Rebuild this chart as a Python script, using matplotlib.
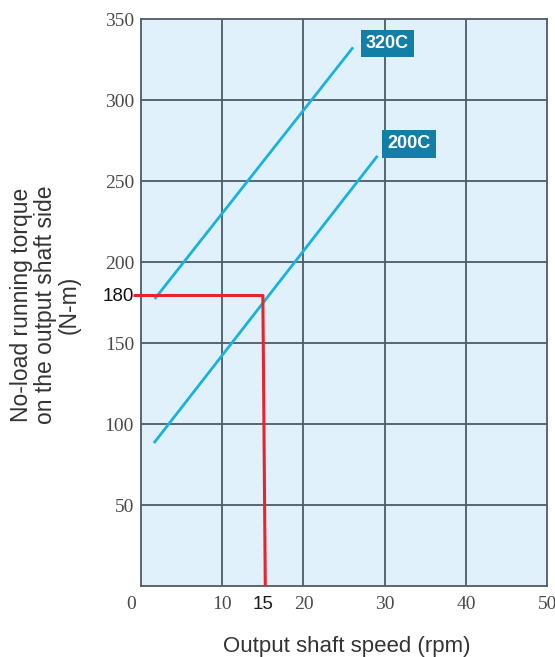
import matplotlib
matplotlib.use("Agg")
import matplotlib.pyplot as plt
from matplotlib.transforms import ScaledTranslation

# Torque vs. speed characteristics for two models
models = ["320C", "200C"]
speed_320c = [1.8, 26.0]
torque_320c = [178, 332]
speed_200c = [1.7, 29.0]
torque_200c = [89, 265]

# Worked example: 180 N-m at 15 rpm
example_torque = 180
example_speed = 15

x_ticks = [0, 10, 15, 20, 30, 40, 50]
y_ticks = [50, 100, 150, 180, 200, 250, 300, 350]
grid_x = [10, 20, 30, 40]
grid_y = [50, 100, 150, 200, 250, 300]

line_color = "#19b2dc"
grid_color = "#4d5b66"
fill_color = "#e1f1fb"
badge_color = "#137ea6"
red = "#e8232a"

fig = plt.figure(figsize=(5.55, 6.57), dpi=100)
ax = fig.add_axes([0.254, 0.108, 0.732, 0.8626])
ax.set_facecolor(fill_color)
ax.set_xlim(0, 50)
ax.set_ylim(0, 350)

for gx in grid_x:
    ax.axvline(gx, color=grid_color, lw=1.3, zorder=1)
for gy in grid_y:
    ax.axhline(gy, color=grid_color, lw=1.3, zorder=1)
for s in ax.spines.values():
    s.set_color(grid_color)
    s.set_linewidth(1.3)

ax.plot(speed_320c, torque_320c, color=line_color, lw=2.0, zorder=3)
ax.plot(speed_200c, torque_200c, color=line_color, lw=2.0, zorder=3)

# Example lookup path
ax.plot([-1.0, example_speed], [example_torque, example_torque],
        color=red, lw=2.2, clip_on=False, zorder=4, solid_capstyle="butt")
ax.plot([example_speed, example_speed + 0.3], [example_torque, 0],
        color=red, lw=2.2, zorder=4, solid_capstyle="butt")

# Model badges
badge_pos = {"320C": (30.3, 335), "200C": (33.0, 273)}
for m in models:
    bx, by = badge_pos[m]
    ax.text(bx, by, m, color="white", fontsize=13, fontweight="bold",
            family="Liberation Sans", ha="center", va="center", zorder=5,
            bbox=dict(boxstyle="square,pad=0.28", fc=badge_color, ec="none"))

ax.tick_params(length=0)
ax.set_xticks(x_ticks)
ax.set_yticks(y_ticks)
ax.set_xticklabels([str(v) for v in x_ticks])
ax.set_yticklabels([str(v) for v in y_ticks])
ax.tick_params(axis="x", pad=7)
ax.tick_params(axis="y", pad=5)

for lbl, v in zip(ax.get_xticklabels(), x_ticks):
    if v == example_speed:
        lbl.set_fontfamily("Liberation Sans")
        lbl.set_fontsize(13.5)
        lbl.set_color("#1a1a1a")
    else:
        lbl.set_fontfamily("Liberation Serif")
        lbl.set_fontsize(14)
        lbl.set_color("#4a4a4a")
    if v == 0:
        lbl.set_transform(lbl.get_transform() +
                          ScaledTranslation(-0.10, 0, fig.dpi_scale_trans))

for lbl, v in zip(ax.get_yticklabels(), y_ticks):
    if v == example_torque:
        lbl.set_fontfamily("Liberation Sans")
        lbl.set_fontsize(13.5)
        lbl.set_color("#111111")
    else:
        lbl.set_fontfamily("Liberation Serif")
        lbl.set_fontsize(14)
        lbl.set_color("#4a4a4a")

fig.text(0.624, 0.016, "Output shaft speed (rpm)", ha="center", va="center",
         fontsize=16, family="Liberation Sans", color="#333333")
fig.text(0.082, 0.536, "No-load running torque\non the output shaft side\n(N-m)",
         ha="center", va="center", rotation=90, fontsize=16.5,
         family="Liberation Sans", color="#333333", linespacing=1.05)

fig.savefig("out.png", dpi=100)
